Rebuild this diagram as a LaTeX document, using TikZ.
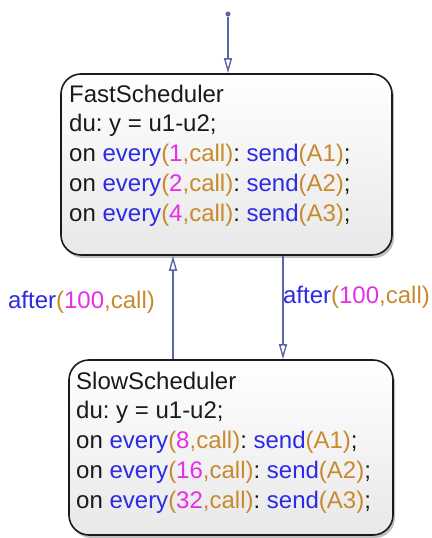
\documentclass[tikz,border=0pt]{standalone}
\usepackage{fontspec}
\setmainfont{Liberation Sans}
\frenchspacing
\usetikzlibrary{arrows.meta,shadows,positioning}
\definecolor{ink}{HTML}{1A1A1A}
\definecolor{kw}{HTML}{2B2BE6}
\definecolor{num}{HTML}{E62EE6}
\definecolor{evcol}{HTML}{C98A2E}
\definecolor{wire}{HTML}{5B64A6}
\newcommand{\kwd}[1]{\textcolor{kw}{#1}}
\newcommand{\nbr}[1]{\textcolor{num}{#1}}
\newcommand{\evt}[1]{\textcolor{evcol}{#1}}
\tikzset{state/.style={draw=ink,line width=1.6pt,rounded corners=20pt,top color=white,bottom color=black!9,
drop shadow={shadow xshift=2pt,shadow yshift=-3pt,opacity=.5}},
body/.style={font=\fontsize{24}{29.75}\selectfont,text=ink,align=left,inner sep=0pt,anchor=north west},
trans/.style={-{Triangle[open,length=15pt,width=8pt]},line width=1.4pt,wire},
lab/.style={font=\fontsize{24}{28}\selectfont,inner sep=0pt}}

\begin{document}
\begin{tikzpicture}[x=1pt,y=1pt]
\useasboundingbox (0,0) rectangle (431,538);
\node[state,minimum width=331pt,minimum height=181pt] (fast) at (226.5,373.5) {};
\node[state,minimum width=324pt,minimum height=175pt] (slow) at (231,90.5) {};
\node[body] (fasttxt) at (69,453.5) {FastScheduler\\
du: y = u1-u2;\\
on \kwd{every}\evt{(}\nbr{1}\evt{,call)}: \kwd{send}\evt{(A1)};\\
on \kwd{every}\evt{(}\nbr{2}\evt{,call)}: \kwd{send}\evt{(A2)};\\
on \kwd{every}\evt{(}\nbr{4}\evt{,call)}: \kwd{send}\evt{(A3)};};
\node[body] (slowtxt) at (76,166.5) {SlowScheduler\\
du: y = u1-u2;\\
on \kwd{every}\evt{(}\nbr{8}\evt{,call)}: \kwd{send}\evt{(A1)};\\
on \kwd{every}\evt{(}\nbr{16}\evt{,call)}: \kwd{send}\evt{(A2)};\\
on \kwd{every}\evt{(}\nbr{32}\evt{,call)}: \kwd{send}\evt{(A3)};};
\node[circle,fill=wire,inner sep=0pt,minimum size=5pt] (init) at (228,524) {};
\coordinate (up) at (173,0);
\coordinate (down) at (283,0);
\draw[trans] (init) -- (init |- fast.north);
\draw[trans] (up |- slow.north) -- (up |- fast.south);
\draw[trans] (down |- fast.south) -- (down |- slow.north);
\node[lab] (uplab) at (81.5,236) {\kwd{after}\evt{(}\nbr{100}\evt{,call)}};
\node[lab] (downlab) at (356.5,241) {\kwd{after}\evt{(}\nbr{100}\evt{,call)}};
\end{tikzpicture}
\end{document}
